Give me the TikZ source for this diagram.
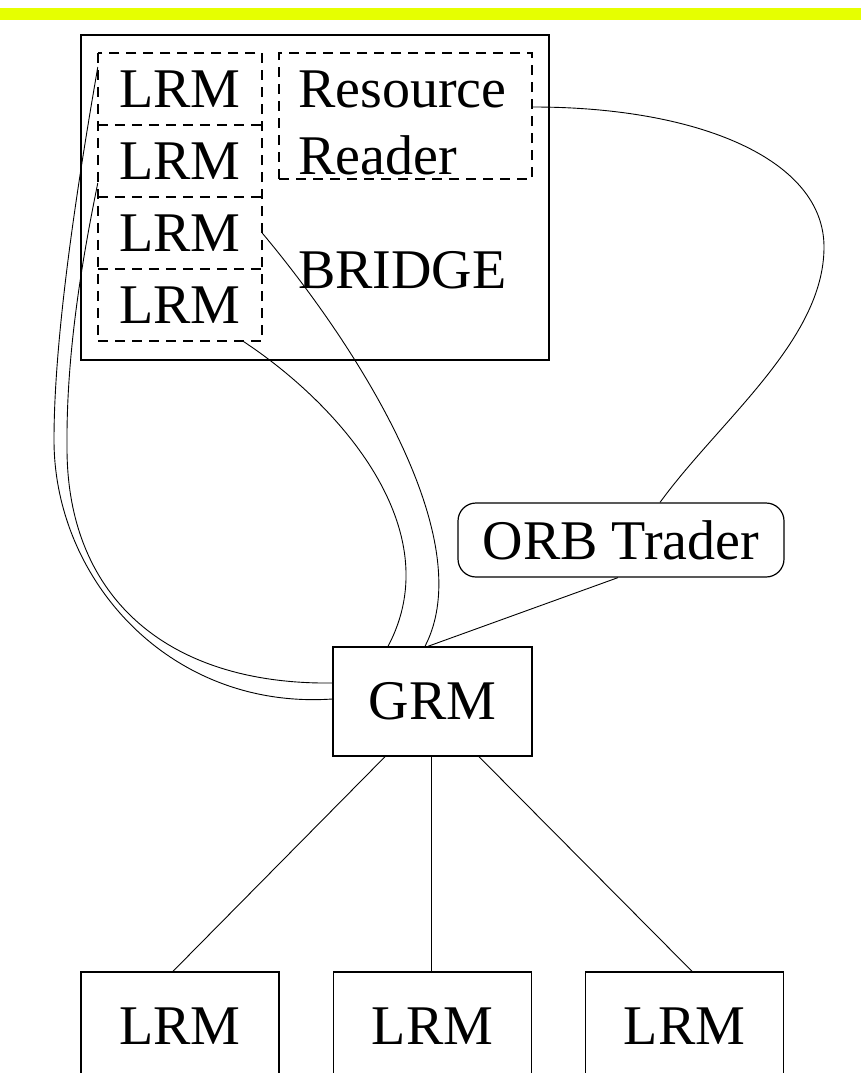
\documentclass[tikz,border=0pt]{standalone}
\usepackage{fontspec}
\setmainfont{Liberation Serif}
\definecolor{barcolor}{RGB}{230,255,0}
\begin{document}
\begin{tikzpicture}[x=1pt,y=-1pt,
  every node/.style={font=\fontsize{56}{67}\selectfont, inner sep=0pt},
  solidbox/.style={draw, line width=1.4pt},
  cell/.style={minimum width=164pt, minimum height=72pt},
  dashline/.style={line width=1.6pt, dash pattern=on 10pt off 7pt},
  link/.style={line width=0.9pt},
  leaf/.style={solidbox, minimum width=198pt, minimum height=109pt}]
\useasboundingbox (0,0) rectangle (861,1073);
\clip (0,0) rectangle (861,1073);

% title bar
\fill[barcolor] (0,8) rectangle (861,20);

% bridge container
\node[solidbox, minimum width=468pt, minimum height=325pt] (bridge) at (315,197.5) {};
\node[anchor=base west] (bridgelabel) at (298,288) {BRIDGE};

% stacked local resource managers
\node[cell] (l1) at (180,89) {LRM};
\node[cell] (l2) at (180,161) {LRM};
\node[cell] (l3) at (180,233) {LRM};
\node[cell] (l4) at (180,305) {LRM};
\draw[dashline] (l1.north west) rectangle (l4.south east);
\foreach \c in {l1,l2,l3} \draw[dashline] (\c.south west) -- (\c.south east);

% resource reader
\node[dashline, draw, minimum width=253pt, minimum height=126pt] (rr) at (405.5,116) {};
\node[anchor=base west] (rrtop) at (298,107) {Resource};
\node[anchor=base west] (rrbottom) at (298,174) {Reader};

% global manager and trader
\node[solidbox, minimum width=199pt, minimum height=109pt] (grm) at (432.5,701.5) {GRM};
\node[draw, line width=1.2pt, rounded corners=18pt, minimum width=326pt, minimum height=74pt] (orb) at (621,540) {ORB Trader};

% remote local managers
\node[leaf] (m1) at (180,1026.5) {LRM};
\node[leaf] (m2) at (432.5,1026.5) {LRM};
\node[leaf] (m3) at (684.5,1026.5) {LRM};

% connections
\draw[link] ([yshift=9pt]rr.east) .. controls (700,107) and (824,160) .. (824,247)
            .. controls (824,340) and (720,420) .. ([xshift=39pt]orb.north);
\draw[link] ([yshift=22pt]l1.west) .. controls (80,170) and (54,330) .. (54,440)
            .. controls (54,580) and (170,710) .. ([yshift=2.5pt]grm.west);
\draw[link] ([yshift=-22pt]l2.west) .. controls (80,270) and (66,360) .. (67,450)
            .. controls (68,600) and (170,685) .. ([yshift=18.5pt]grm.west);
\draw[link] (l3.east) .. controls (360,350) and (480,540) .. ([xshift=-7.5pt]grm.north);
\draw[link] ([xshift=63pt]l4.south) .. controls (340,405) and (450,530) .. ([xshift=-44.5pt]grm.north);
\draw[link] ([xshift=-3pt]orb.south) -- ([xshift=-4.5pt]grm.north);

\draw[link] ([xshift=-47.5pt]grm.south) -- ([xshift=-7pt]m1.north);
\draw[link] ([xshift=-1.5pt]grm.south) -- ([xshift=-1.5pt]m2.north);
\draw[link] ([xshift=46.5pt]grm.south) -- ([xshift=7.5pt]m3.north);
\end{tikzpicture}
\end{document}
